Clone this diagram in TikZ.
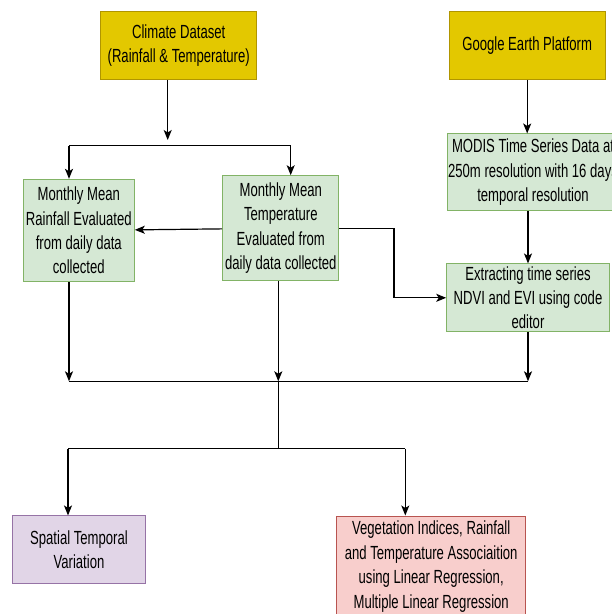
\documentclass[tikz,border=0pt]{standalone}
\usepackage{fontspec}
\setmainfont{Liberation Sans}[FakeStretch=0.69]
\usetikzlibrary{arrows.meta}

\definecolor{yelFill}{HTML}{E3C800}
\definecolor{yelLine}{HTML}{B09500}
\definecolor{grnFill}{HTML}{D5E8D4}
\definecolor{grnLine}{HTML}{82B366}
\definecolor{purFill}{HTML}{E1D5E7}
\definecolor{purLine}{HTML}{9673A6}
\definecolor{redFill}{HTML}{F8CECC}
\definecolor{redLine}{HTML}{B85450}

\tikzset{every picture/.style={line width=0.75pt}}
\tikzset{
	box/.style={draw, line width=1pt, inner sep=0pt, align=center,
		font=\fontsize{19}{24.4}\selectfont},
	yelbox/.style={box, fill=yelFill, draw=yelLine},
	grnbox/.style={box, fill=grnFill, draw=grnLine},
	purbox/.style={box, fill=purFill, draw=purLine},
	redbox/.style={box, fill=redFill, draw=redLine},
	link/.style={line width=1.2pt},
	arr/.style={link, -{Stealth[length=10pt,width=8pt,inset=2.5pt]}}}

\begin{document}
\begin{tikzpicture}[x=1pt,y=1pt,yscale=-1,xscale=1]
	%set diagram left start at 0, and has height of 614
	\useasboundingbox (0,0) rectangle (612,614);

	%Shape: Rectangle [climate]
	\node[yelbox, minimum width=156pt, minimum height=67.6pt] (climate) at (178.7,45.5)
		{Climate Dataset\\(Rainfall \& Temperature)};
	%Shape: Rectangle [google]
	\node[yelbox, minimum width=155.7pt, minimum height=67.6pt] (google) at (527.2,45.5)
		{Google Earth Platform};
	%Shape: Rectangle [rain]
	\node[grnbox, minimum width=111pt, minimum height=102.4pt] (rain) at (78.8,230.5)
		{Monthly Mean\\Rainfall Evaluated\\from daily data\\collected};
	%Shape: Rectangle [temp]
	\node[grnbox, minimum width=116.3pt, minimum height=105pt] (temp) at (280.8,228.2)
		{Monthly Mean\\Temperature\\Evaluated from\\daily data collected};
	%Shape: Rectangle [modis]
	\node[grnbox, minimum width=171.4pt, minimum height=76.7pt] (modis) at (533,172.3)
		{MODIS Time Series Data at\\250m resolution with 16 days\\temporal resolution};
	%Shape: Rectangle [extract]
	\node[grnbox, minimum width=162.6pt, minimum height=67.7pt] (extract) at (528,297.8)
		{Extracting time series\\NDVI and EVI using code\\editor};
	%Shape: Rectangle [spatial]
	\node[purbox, minimum width=133.4pt, minimum height=67.7pt] (spatial) at (79,549.8)
		{Spatial Temporal\\Variation};
	%Shape: Rectangle [veg]
	\node[redbox, minimum width=189pt, minimum height=101pt] (veg) at (431.2,566.5)
		{Vegetation Indices, Rainfall\\and Temperature Associaition\\using Linear Regression,\\Multiple Linear Regression};

	% junction points
	\coordinate (cJoin) at (167.7,140);
	\coordinate (sLeft) at (69,145.7);
	\coordinate (sRight) at (290.7,145.7);
	\coordinate (jLeft) at (69,381.3);
	\coordinate (jMid) at (278.3,381.3);
	\coordinate (jRight) at (528,381.3);
	\coordinate (bMid) at (278.3,448.7);
	\coordinate (bLeft) at (68,448.7);
	\coordinate (bRight) at (405.3,448.7);

	%Straight Lines [climate split]
	\draw[arr] (climate.south -| cJoin) -- (cJoin);
	\draw[link] (sLeft) -- (sRight);
	\draw[arr] (sLeft) -- (rain.north -| sLeft);
	\draw[arr] (sRight) -- (temp.north -| sRight);
	%Straight Lines [temp to rain]
	\draw[arr] (temp) -- (rain);
	%Connector [temp to extract]
	\draw[arr] (temp.east) -- ++(54.5,0) |- (extract.west);
	%Straight Lines [google side]
	\draw[arr] (google.south) -- (google.south |- modis.north);
	\draw[arr] (modis.south -| extract.north) -- (extract.north);

	%Straight Lines [merge]
	\draw[arr] (rain.south -| jLeft) -- (jLeft);
	\draw[arr] (temp.south -| jMid) -- (jMid);
	\draw[arr] (extract.south) -- (jRight);
	\draw[link] (jLeft) -- (jRight);
	\draw[link] (jMid) -- (bMid);
	\draw[link] (bLeft) -- (bRight);
	\draw[arr] (bLeft) -- (spatial.north -| bLeft);
	\draw[arr] (bRight) -- (veg.north -| bRight);

\end{tikzpicture}
\end{document}
